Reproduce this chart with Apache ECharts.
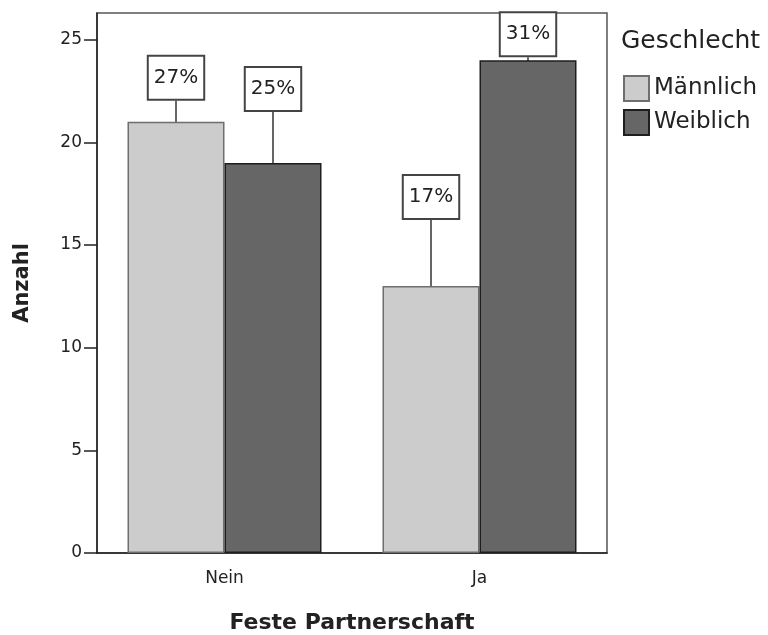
<!DOCTYPE html>
<html>
<head>
<meta charset="utf-8">
<script src="https://cdn.jsdelivr.net/npm/echarts@6/dist/echarts.min.js"></script>
<style>
  html, body { margin: 0; padding: 0; background: #fff; }
  #chart { width: 768px; height: 635px; }
</style>
</head>
<body>
<div id="chart"></div>
<script>
// Daten
var categories = ['Nein', 'Ja'];
var seriesNames = ['Männlich', 'Weiblich'];
var maennlich = [21, 13];
var weiblich = [19, 24];
var maennlichPct = ['27%', '17%'];
var weiblichPct = ['25%', '31%'];
var yTicks = [0, 5, 10, 15, 20, 25];

var FONT = 'DejaVu Sans';
var TEXT = '#222';

// Verschiebung der Beschriftung über dem Balken (px)
var labelShift = {
  'Männlich': [-19, -64],
  'Weiblich': [-49, -1]
};

function barLabel(pcts) {
  return {
    show: true,
    position: 'top',
    distance: 4,
    formatter: function (p) { return pcts[p.dataIndex]; },
    color: TEXT,
    fontFamily: FONT,
    fontSize: 20,
    lineHeight: 22,
    backgroundColor: '#fff',
    borderColor: '#444',
    borderWidth: 2,
    padding: [10, 5, 10, 5]
  };
}

function makeSeries(name, values, pcts, fill, border) {
  return {
    name: name,
    type: 'bar',
    data: values,
    barGap: '0%',
    barWidth: 97,
    itemStyle: { color: fill, borderColor: border, borderWidth: 1.5 },
    label: barLabel(pcts),
    labelLine: { show: true, lineStyle: { color: '#333', width: 1.5 } },
    labelLayout: function (p) {
      return { dy: labelShift[name][p.dataIndex] };
    },
    emphasis: { disabled: true }
  };
}

var chart = echarts.init(document.getElementById('chart'));
chart.setOption({
  animation: false,
  textStyle: { fontFamily: FONT },
  title: {
    text: 'Geschlecht',
    left: 621,
    top: 29,
    padding: 0,
    textStyle: { fontFamily: FONT, fontSize: 25, fontWeight: 'normal', color: TEXT }
  },
  legend: {
    orient: 'vertical',
    left: 623,
    top: 75,
    padding: 0,
    itemWidth: 25,
    itemHeight: 25,
    itemGap: 7,
    icon: 'rect',
    data: seriesNames,
    textStyle: { fontFamily: FONT, fontSize: 23, lineHeight: 25, color: TEXT }
  },
  grid: {
    left: 97, right: 161, top: 13, bottom: 82,
    outerBoundsMode: 'none',
    containLabel: false,
    show: true, borderColor: '#555', borderWidth: 1.5, backgroundColor: '#fff'
  },
  xAxis: {
    type: 'category',
    data: categories,
    name: 'Feste Partnerschaft',
    nameLocation: 'middle',
    nameGap: 59,
    nameTextStyle: { fontFamily: FONT, fontSize: 22, fontWeight: 'bold', color: TEXT },
    axisLine: { lineStyle: { color: '#222', width: 1.5 } },
    axisTick: { alignWithLabel: true, length: 13, lineStyle: { color: '#222', width: 1.5 } },
    axisLabel: { fontFamily: FONT, fontSize: 17, color: TEXT, margin: 17 }
  },
  yAxis: {
    type: 'value',
    min: 0,
    max: 26.3,
    interval: 5,
    name: 'Anzahl',
    nameLocation: 'middle',
    nameGap: 64,
    nameTextStyle: { fontFamily: FONT, fontSize: 21, fontWeight: 'bold', color: TEXT },
    axisLine: { show: true, lineStyle: { color: '#222', width: 1.5 } },
    axisTick: { show: true, length: 13, customValues: yTicks, lineStyle: { color: '#222', width: 1.5 } },
    axisLabel: { fontFamily: FONT, fontSize: 17, color: TEXT, margin: 15, customValues: yTicks },
    splitLine: { show: false }
  },
  series: [
    makeSeries(seriesNames[0], maennlich, maennlichPct, '#cccccc', '#6e6e6e'),
    makeSeries(seriesNames[1], weiblich, weiblichPct, '#666666', '#1e1e1e')
  ]
});
</script>
</body>
</html>
